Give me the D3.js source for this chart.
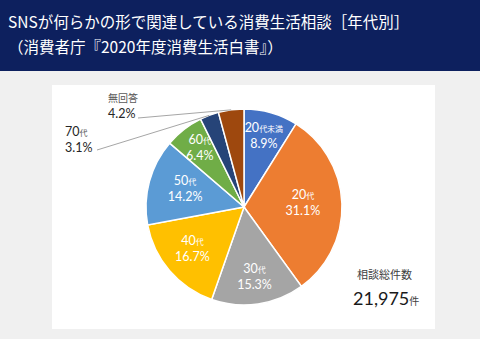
<!DOCTYPE html>
<html><head><meta charset="utf-8">
<script src="https://cdn.jsdelivr.net/npm/d3@7/dist/d3.min.js"></script>
<style>html,body{margin:0;padding:0;background:#f0f0f0;}svg{display:block;}</style>
</head><body>
<script>
const categories = ["20代未満","20代","30代","40代","50代","60代","70代","無回答"];
const ageNum = ["20","20","30","40","50","60","70",""];
const ageSuffix = ["代未満","代","代","代","代","代","代",""];
const values = [8.9,31.1,15.3,16.7,14.2,6.4,3.1,4.2];
const colors = ["#4472C4","#ED7D31","#A5A5A5","#FFC000","#5B9BD5","#70AD47","#264478","#9E480E"];
const totalLabel = "相談総件数";
const totalValue = "21,975";
const titleLines = ["SNSが何らかの形で関連している消費生活相談［年代別］","（消費者庁『2020年度消費生活白書』）"];

// layout (not data)
const labelRadius = [72,59,73,68,61,72];
const outsideLabelPos = {6:[65,136], 7:[108,102]};
const outsideLineStart = {6:[97,150], 7:[138,118]};

const W=480,H=339;
const font = "'Noto Sans CJK JP','Noto Sans',sans-serif";
const numFont = "Lato,'Noto Sans CJK JP',sans-serif";
const svg = d3.select("body").append("svg").attr("width",W).attr("height",H);
svg.append("rect").attr("width",W).attr("height",H).attr("fill","#f0f0f0");
svg.append("rect").attr("x",0).attr("y",0).attr("width",W).attr("height",71).attr("fill","#0d205e");
svg.append("rect").attr("x",52).attr("y",85).attr("width",383).attr("height",244).attr("fill","#ffffff");

titleLines.forEach((t,i)=>{
  svg.append("text").attr("x",8).attr("y",28+i*25).attr("fill","#fff")
    .style("font-family",font).style("font-size","15.5px").text(t);
});

const cx=244, cy=207, R=98;
const g = svg.append("g").attr("transform",`translate(${cx},${cy})`);
const pie = d3.pie().sort(null).value(d=>d)(values);
const arc = d3.arc().innerRadius(0).outerRadius(R);
g.selectAll("path").data(pie).enter().append("path")
  .attr("d",arc).attr("fill",(d,i)=>colors[i]).attr("stroke","#fff").attr("stroke-width",1.5);

pie.forEach((d,i)=>{
  const mid=(d.startAngle+d.endAngle)/2;
  if(i<6){
    const r=labelRadius[i];
    const x=r*Math.sin(mid), y=-r*Math.cos(mid);
    const t1=g.append("text").attr("x",x).attr("y",y-6).attr("text-anchor","middle").attr("fill","#fff")
      .style("font-family",numFont).style("font-size","12.5px");
    t1.append("tspan").text(ageNum[i]);
    t1.append("tspan").style("font-family",font).style("font-size","8px").text(ageSuffix[i]);
    g.append("text").attr("x",x).attr("y",y+10).attr("text-anchor","middle").attr("fill","#fff")
      .style("font-family",numFont).style("font-size","12.5px").text(values[i].toFixed(1)+"%");
  } else {
    const [lx,ly]=outsideLabelPos[i];
    const [sx,sy]=outsideLineStart[i];
    const ex=cx+R*Math.sin(mid), ey=cy-R*Math.cos(mid);
    svg.append("line").attr("x1",sx).attr("y1",sy).attr("x2",ex).attr("y2",ey)
      .attr("stroke","#a6a6a6").attr("stroke-width",1);
    const t1=svg.append("text").attr("x",lx).attr("y",ly).attr("fill", i===7?"#595959":"#262626")
      .style("font-family", i===7?font:numFont).style("font-size", i===7?"10px":"12.5px");
    t1.append("tspan").text(i===7?categories[i]:ageNum[i]);
    if(i!==7) t1.append("tspan").style("font-family",font).style("font-size","8px").attr("fill","#595959").text(ageSuffix[i]);
    svg.append("text").attr("x",lx).attr("y",ly+16).attr("fill","#262626")
      .style("font-family",numFont).style("font-size","12.5px").text(values[i].toFixed(1)+"%");
  }
});

svg.append("text").attr("x",357).attr("y",279).attr("fill","#404040")
  .style("font-family",font).style("font-size","11px").text(totalLabel);
const tt=svg.append("text").attr("x",353).attr("y",305).attr("fill","#1a1a1a")
  .style("font-family",numFont).style("font-size","18px");
tt.append("tspan").text(totalValue);
tt.append("tspan").style("font-family",font).style("font-size","10px").attr("fill","#404040").text("件");
</script>
</body></html>
